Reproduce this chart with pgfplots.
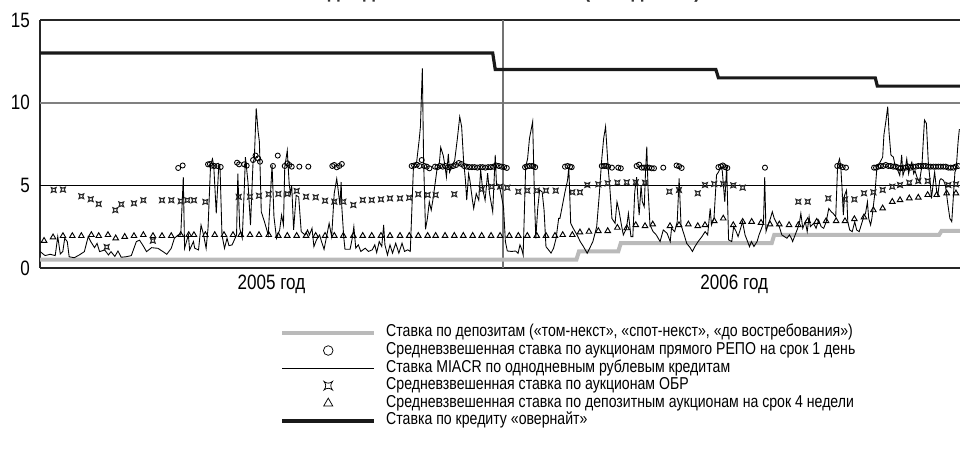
\documentclass[border=0pt]{standalone}
\usepackage{fontspec}
\setmainfont{Liberation Sans}[FakeStretch=0.82]
\usepackage{pgfplots}
\pgfplotsset{compat=1.18}
\pgfdeclareplotmark{obr}{%
  \pgfpathmoveto{\pgfpoint{-\pgfplotmarksize}{-\pgfplotmarksize}}%
  \pgfpathquadraticcurveto{\pgfpoint{0pt}{-0.2\pgfplotmarksize}}{\pgfpoint{\pgfplotmarksize}{-\pgfplotmarksize}}%
  \pgfpathquadraticcurveto{\pgfpoint{0.2\pgfplotmarksize}{0pt}}{\pgfpoint{\pgfplotmarksize}{\pgfplotmarksize}}%
  \pgfpathquadraticcurveto{\pgfpoint{0pt}{0.2\pgfplotmarksize}}{\pgfpoint{-\pgfplotmarksize}{\pgfplotmarksize}}%
  \pgfpathquadraticcurveto{\pgfpoint{-0.2\pgfplotmarksize}{0pt}}{\pgfpoint{-\pgfplotmarksize}{-\pgfplotmarksize}}%
  \pgfpathclose
  \pgfusepathqstroke
}
\pgfplotsset{
  longline legend/.style={legend image code/.code={\draw[##1] (0pt,0pt) -- (69pt,0pt);}},
  centermark legend/.style={legend image code/.code={\draw[##1] plot coordinates {(34.5pt,0pt)};}},
}
\begin{document}
\begin{tikzpicture}
\begin{axis}[
  scale only axis, width=690pt, height=186pt,
  xmin=0, xmax=725.5, ymin=0, ymax=15,
  axis x line*=box, axis y line*=left,
  axis line style={line width=1.2pt, black!85},
  ytick={0,5,10,15},
  xtick={182.5,547.5}, xticklabels={2005 год,2006 год},
  major tick length=0pt,
  tick label style={font=\fontsize{15.6}{16}\selectfont},
  yticklabel style={xshift=-4pt},
  xticklabel style={yshift=-2pt},
  /pgf/number format/assume math mode=true,
  legend style={at={(axis description cs:0.2565,-0.2145)}, anchor=north west,
    draw=none, fill=none, font=\fontsize{12.9}{13}\selectfont, row sep=0pt,
    nodes={inner sep=0pt, text height=9.6pt, text depth=3.6pt},
    /tikz/every odd column/.append style={column sep=7.5pt}},
  legend cell align=left,
]
% reference lines
\draw[black, line width=0.8pt] (axis cs:0,5) -- (axis cs:725.5,5);
\draw[black!50, line width=1.5pt] (axis cs:0,10) -- (axis cs:725.5,10);
\draw[black!55, line width=1.1pt] (axis cs:365,0) -- (axis cs:365,15);

% deposit rate (tom-next etc.)
\addplot[forget plot, black!27, line width=3pt] coordinates {
(0,0.5)(423,0.5)(425,1.0)(456,1.0)(458,1.5)(577,1.5)(579,2.0)(709,2.0)(711,2.25)(726,2.25)};

% overnight credit
\addplot[forget plot, black!90, line width=2.4pt] coordinates {
(0,13)(357,13)(359,12)(533,12)(535,11.5)(658.7,11.5)(660.3,11)(726,11)};

% MIACR
\addplot[forget plot, black, line width=0.65pt] coordinates {
(0,1.0)(4,0.75)(8,0.83)(12,0.75)(14,1.9)(16,0.85)(18,1.0)(19.5,1.8)(21.5,1.6)(23,0.68)(27,0.62)(31,0.79)(35,0.99)(38,1.9)(40,1.6)(43,1.23)(45,1.49)(47,0.99)(51,1.09)(54,0.79)(56,0.99)(59,0.7)(61.5,1.03)(64,0.65)(68,0.68)(72,0.75)(76,1.6)(78.5,1.68)(81,1.39)(84,0.99)(88,1.23)(93,1.19)(97,0.99)(100,0.83)(103.5,1.19)(106,1.8)(109,2.0)(111,2.0)(113,5.5)(114,1.19)(117,2.0)(118,1.09)(121,1.6)(122,1.2)(125,1.09)(127,2.6)(129,2.0)(131,1.19)(132.5,2.4)(134.5,6.23)(136,6.6)(137,6.2)(139,3.3)(141,6.23)(142,6.0)(143.5,2.0)(145.5,1.19)(147.5,1.8)(149,1.35)(151.5,1.4)(155,2.0)(156,5.7)(157.5,2.4)(159.5,1.8)(161,4.6)(162,6.7)(164,5.2)(166,2.6)(168,6.4)(169,6.6)(170.5,9.66)(172,8.25)(173,7.64)(174.5,3.4)(177,2.8)(180,2.0)
(183,6.23)(184.5,3.1)(186.5,1.8)(189,2.3)(190.5,3.2)(192,2.6)(193,6.1)(195,7.1)(196.5,5.1)(197.5,4.5)(198.5,5.0)(200,2.3)(202,4.4)(204,4.3)(206,2.2)(209,2.0)(211,2.3)(212.5,2.0)(214.5,2.4)(216,1.29)(218,1.7)(220.5,2.0)(222,1.6)(224,1.13)(226.5,2.1)(228,2.7)(230,1.9)(232,4.5)(234,5.4)(235,4.8)(236.5,3.8)(237.5,5.2)(238,3.7)(239.5,1.9)(240.5,1.13)(244.5,1.13)(246.5,1.9)(247.5,2.5)(249,1.2)(251,1.4)(253,1.0)(256.5,1.2)(259,1.0)(262,1.1)(264,1.4)(265.5,0.93)(267.5,1.6)(269.5,1.3)(271,2.6)(272,1.4)(274,0.79)(276,1.4)(278,0.9)(280.5,1.5)(283,0.9)(285.5,1.5)(287.5,1.0)(290,1.1)(292,1.0)(294.5,6.13)(297,6.4)(299,7.74)(300,8.55)(301.5,12.08)(302.5,6.53)(304,2.34)(305.5,3.0)(307,4.0)(308.5,3.5)(310,4.2)(313,5.93)(315,6.4)(316,7.3)(318,6.8)(319.5,6.1)(320.5,5.5)(322,6.9)(323,5.8)(325,6.2)(327,6.5)(329,7.74)(331,9.15)(332.5,8.55)(334,6.53)(335.5,5.3)(336.5,4.1)(338,5.7)(339,5.3)(341,4.1)(342,3.6)(344,4.5)(346,4.1)(347.5,5.93)(349,4.8)(351,4.1)(353,5.73)(354.5,4.5)(357,3.4)(359,6.84)(360,5.0)(362,5.0)(363,4.7)(365.5,3.7)(367,1.6)
(368.5,1.03)(372,1.0)(375,1.03)(377,0.89)(378.5,1.4)(380,1.1)(381,0.79)(383,6.13)(384.5,6.6)(386,7.84)(388.5,8.85)(390,4.0)(391,1.8)(392.5,3.6)(394,4.72)(396,4.6)(397.5,3.5)(399,1.29)(401,1.1)(403,0.9)(405,1.2)(407,1.8)(409,3.0)(410,3.0)(412,3.8)(414,4.6)(416,5.3)(417,6.1)(418.5,2.7)(420.5,2.4)(423.5,2.0)(426,1.6)(428.5,1.3)(431.5,0.89)(433.5,1.2)(436,1.6)(439,2.5)(441,4.4)(443,6.6)(444.5,7.84)(446,8.55)(448,6.1)(449.5,4.72)(451,3.0)(453.5,2.7)(455,4.0)(456.5,3.5)(458.5,2.6)(460,2.0)(462.5,2.4)(464,3.3)(466,1.9)(467.5,1.9)(469,4.6)(470.5,5.5)(471.5,4.2)(472.5,3.2)(474,5.0)(475,4.0)(476.5,3.7)(477.5,5.8)(478.5,7.34)(479.5,4.8)(481,2.6)(483.5,2.2)(486,2.0)(489,1.6)(491.5,2.3)(494.5,2.1)(497,1.6)(498,2.4)(500.5,2.2)(502.5,2.8)(504,5.42)(505.5,2.6)(508,2.0)(510,1.49)(512.5,1.25)(514.5,1.0)(516.5,1.3)(519,1.6)(522,1.9)(524.5,2.2)(526.5,2.0)(528.5,3.6)(529.5,2.6)(531.5,3.0)(533.5,5.63)(535,5.8)(537,6.1)(538,5.9)(540,4.0)(541.5,6.13)(543,1.7)(545.5,1.6)
(547,2.5)(549,2.2)(550.5,1.9)(552.5,2.4)(554,2.8)(556,2.0)(558,1.6)(559.5,1.29)(561,1.6)(563,1.3)(565.5,1.6)(567,2.0)(569,2.4)(570.5,2.7)(571.5,5.5)(572.5,2.2)(574.5,2.7)(576,3.0)(577.5,3.4)(579,3.0)(581,2.7)(583,2.5)(585,2.0)(587,1.9)(589,1.8)(591,2.0)(592.5,1.8)(593.5,1.6)(595.5,2.0)(597.5,2.4)(599,2.8)(600,3.3)(601.5,2.4)(603.5,2.8)(605,2.2)(606.5,3.1)(607.5,2.5)(610,2.7)(612,2.4)(614,2.9)(616,2.5)(618,2.4)(620,2.8)(622,3.6)(624,3.4)(625.5,3.3)(627.5,3.1)(629,6.23)(630.5,6.6)(631.5,6.1)(632.5,4.8)(633.5,3.2)(634.5,4.4)(636,4.7)(637,2.8)(638.5,2.3)(640.5,2.2)(642.5,2.8)(644,2.3)(646,2.2)(648,2.7)(650,3.2)(651,3.3)(652.5,4.0)(653.5,3.0)(655,2.6)(656,3.0)(658.5,4.6)(659.5,5.6)(660,6.13)(662.5,6.4)(664.5,6.7)(665.5,8.05)(667,8.85)(668.5,9.76)(669.5,8.25)(671,6.84)(673,6.7)(674.5,6.1)(676.5,5.9)(678,5.6)(679.5,6.84)(680.5,5.6)(682.5,6.1)(683.5,6.6)(685,5.7)(686,6.1)(687.5,6.4)(689,5.7)(690,5.9)(691.5,5.5)(693.5,5.2)(695.5,6.2)(696.5,7.64)(697.5,8.95)(699,8.75)(700.5,6.4)(702,5.2)(703,4.2)(704.5,5.2)(705.5,5.8)(707,4.7)(708,4.4)(709.5,5.3)(710.5,5.4)(712.5,5.3)(714,5.0)(716,3.8)(717.5,3.0)(719,2.8)(720,4.0)(721.5,5.8)(722.5,6.0)(724,7.64)(725,8.4)};

% deposit auctions 4 weeks (triangles)
\addplot[forget plot, only marks, mark=triangle, mark size=2.4pt, line width=0.7pt, black, mark options={fill=white}] coordinates {
(3.2,1.65)(10.3,1.86)(18.1,1.94)(25.5,1.94)(32.6,1.94)(40.5,2.0)(46.3,1.94)(53.6,2.0)(59.7,1.8)(66.8,1.89)(74.1,1.94)(81.5,2.0)(89.1,1.94)(96.2,1.94)(103.5,1.94)(111,2.0)(117.3,2.0)(121.4,2.0)(130.4,2.0)(137.8,2.0)(145.1,2.0)(152.2,2.0)(158.3,2.0)(165.6,2.0)(172.7,2.0)(180.4,2.0)(187.9,1.95)(195,1.95)(202.4,1.95)(209.8,1.95)(217.4,1.95)(224.8,1.95)(232.1,1.95)(239.2,1.95)(247.1,1.95)(254.5,1.95)(261.6,1.95)(268.9,1.95)(276,1.95)(283.9,1.95)(291.2,1.95)(298.3,1.95)(305.7,1.95)(312,1.95)(319.4,1.95)(326.7,1.95)(333.8,1.95)(341.2,1.95)(348.3,1.95)(355.7,1.95)(362.8,1.95)(370.1,1.95)(377.2,1.95)(384.3,1.95)(391.7,1.95)(399,1.95)(406.1,1.95)(412.2,2.0)(419.8,2.0)(425.8,2.16)(432.9,2.2)(440.3,2.24)(447.7,2.24)(455.3,2.44)(462.7,2.41)(469.8,2.6)(477.1,2.54)(483.2,2.64)(496.8,2.54)(503.9,2.6)(511.3,2.64)(518.7,2.54)(524.4,2.6)(531.7,2.84)(538.8,3.0)(546.7,2.6)(554.1,2.8)(561.2,2.8)(568.6,2.74)(575.7,2.64)(583,2.64)(590.7,2.6)(598,2.6)(605.4,2.84)(612.5,2.8)(619.9,2.84)(627.8,2.84)(634.8,2.84)(642.2,2.96)(649.8,3.07)(657.2,3.5)(664.5,3.61)(672.1,4.01)(678.2,4.11)(685.5,4.22)(692.6,4.26)(700,4.42)(707.1,4.42)(715,4.52)(722.3,4.52)};

% OBR auctions
\addplot[forget plot, only marks, mark=obr, mark size=1.8pt, line width=0.8pt, black!85] coordinates {
(10.8,4.72)(18.1,4.74)(32.6,4.34)(40,4.16)(46.3,3.87)(52.6,1.27)(59.4,3.5)(64.1,3.85)(74.1,3.91)(81.5,4.1)(89,1.65)(96.2,4.1)(103.6,4.1)(111,4.04)(116.2,4.1)(121.4,4.1)(130.4,4.0)(156.7,4.3)(165.6,4.31)(172.7,4.37)(180.3,4.46)(188,4.48)(195,4.48)(202.4,4.66)(209.8,4.31)(217.4,4.28)(224.8,4.07)(232.1,4.01)(239.2,4.01)(247.1,3.81)(254.5,4.11)(261.6,4.11)(268.9,4.15)(276,4.21)(283.9,4.21)(291.2,4.25)(298.3,4.46)(305.7,4.42)(312,4.42)(326.7,4.46)(348.3,4.76)(356.2,4.92)(362.8,4.92)(368.5,4.86)(377.2,4.62)(384.3,4.68)(391.7,4.68)(399,4.68)(406.7,4.68)(419.8,4.58)(425.8,4.58)(431.6,5.02)(440.3,5.06)(447.7,5.12)(455.3,5.16)(462.7,5.18)(469.8,5.18)(477.1,5.16)(496.3,4.62)(503.9,4.72)(518.7,4.52)(524.4,5.02)(531.7,5.08)(538.8,5.08)(546.7,5.0)(554.1,4.86)(598,4.01)(605.4,4.01)(621.6,4.21)(634.8,4.15)(642.2,4.15)(649.8,4.52)(657.2,4.58)(664.5,4.72)(672.1,4.92)(678.2,5.02)(685.5,5.16)(692.6,5.26)(700,5.26)(716.3,5.02)(722.3,5.06)};

% REPO 1 day (circles)
\addplot[forget plot, only marks, mark=o, mark size=1.9pt, line width=0.65pt, black, mark options={fill=white}] coordinates {
(109,6.05)(112.5,6.2)(132.5,6.27)(134,6.29)(135.5,6.19)(137.5,6.17)(140,6.17)(142.5,6.11)(155.4,6.37)(157,6.27)(161,6.27)(163,6.19)(168,6.53)(170,6.8)(172,6.63)(173.5,6.43)(183.7,6.17)(187.5,6.8)(193,6.17)(195,6.33)(196.6,6.23)(198.5,6.13)(204.5,6.13)(211.6,6.13)(230.5,6.17)(232,6.23)(234,6.09)(236,6.17)(238,6.29)
(293.1,6.17)(295,6.2)(297.1,6.25)(299.2,6.17)(301,6.53)(303.1,6.17)(305,6.13)(307.1,6.03)(311.5,6.13)(313.4,6.1)(315.5,6.17)(317.6,6.13)(319.7,6.17)(321.8,6.1)(323.9,6.13)(326,6.17)(328.1,6.23)(330.2,6.35)(332.3,6.29)(334.4,6.17)(336.5,6.13)(338.6,6.1)(340.7,6.1)(342.8,6.1)(344.9,6.07)(347,6.1)(349.1,6.1)(351.2,6.07)(353.3,6.1)(355.4,6.1)(357.5,6.13)(359.6,6.2)(361.8,6.17)(363.9,6.13)(366,6.1)(368.1,6.05)
(382.5,6.1)(384,6.15)(386,6.17)(388,6.17)(389,6.15)(390.5,6.1)(414,6.13)(416,6.17)(418,6.13)(419.3,6.1)(443,6.17)(445,6.17)(446.5,6.17)(448,6.13)(451,6.07)(456,6.07)(458,6.03)(470.5,6.17)(472.5,6.25)(474.5,6.07)(476.3,6.07)(478.5,6.07)(480.3,6.07)(482.4,6.03)(484.2,6.03)(491.5,6.07)(502,6.2)(504,6.15)(506,6.05)(535,6.1)(537,6.15)(538.5,6.2)(540.3,6.1)(542,6.05)(571.7,6.07)(628.7,6.17)(631,6.17)(633,6.1)(635.6,6.07)
(657.7,6.07)(659.3,6.07)(661.1,6.13)(663,6.17)(665,6.17)(666.9,6.23)(669,6.17)(670.8,6.17)(672.9,6.13)(674.8,6.13)(676.8,6.07)(678.7,6.03)(680.8,6.07)(682.7,6.07)(684.7,6.13)(686.6,6.07)(688.7,6.13)(690.6,6.13)(692.6,6.17)(694.5,6.17)(696.6,6.17)(698.5,6.17)(700.5,6.13)(702.4,6.13)(704.5,6.13)(706.4,6.13)(708.4,6.13)(710.3,6.13)(712.3,6.13)(714.2,6.13)(716.3,6.07)(718.2,6.07)(720.2,6.07)(722.1,6.13)(724.2,6.17)};

% legend
\addlegendimage{black!27, line width=3pt, longline legend}
\addlegendentry{Ставка по депозитам («том-некст», «спот-некст», «до востребования»)}
\addlegendimage{only marks, mark=o, mark size=3.6pt, line width=0.55pt, black, centermark legend}
\addlegendentry{Средневзвешенная ставка по аукционам прямого РЕПО на срок 1 день}
\addlegendimage{black, line width=0.7pt, longline legend}
\addlegendentry{Ставка MIACR по однодневным рублевым кредитам}
\addlegendimage{only marks, mark=obr, mark size=3.2pt, line width=0.55pt, black, centermark legend}
\addlegendentry{Средневзвешенная ставка по аукционам ОБР}
\addlegendimage{only marks, mark=triangle, mark size=3.9pt, line width=0.55pt, black, centermark legend}
\addlegendentry{Средневзвешенная ставка по депозитным аукционам на срок 4 недели}
\addlegendimage{black!90, line width=2.4pt, longline legend}
\addlegendentry{Ставка по кредиту «овернайт»}
\end{axis}
\node[anchor=base, font=\bfseries\fontsize{17.5}{18}\selectfont, text=black!80] at (345pt,203pt) {и однодневная ставка MIACR (\% годовых)};
\pgfresetboundingbox
\useasboundingbox (-30pt,-148.5pt) rectangle (690pt,201pt);
\end{tikzpicture}
\end{document}
